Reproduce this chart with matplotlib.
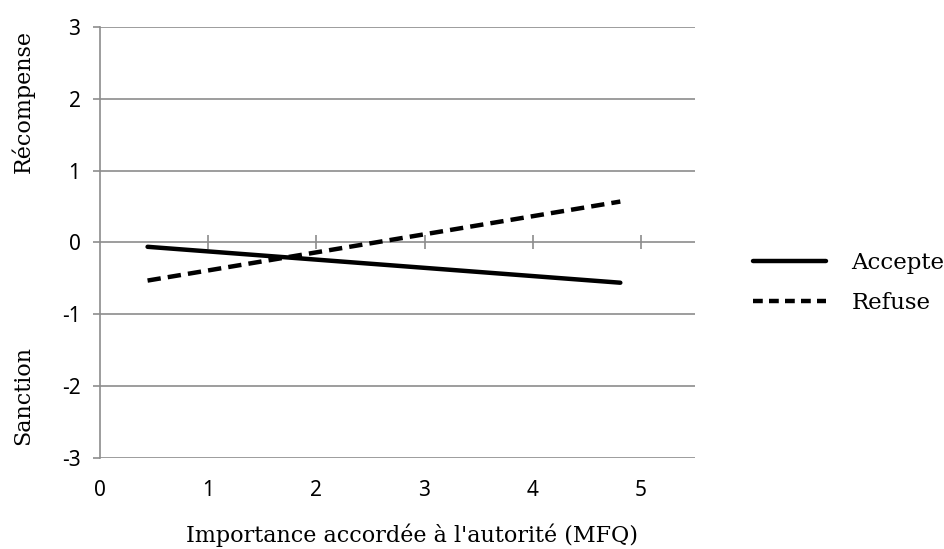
import matplotlib
matplotlib.use('Agg')
import matplotlib.pyplot as plt
from matplotlib.lines import Line2D

# ── Data ──────────────────────────────────────────────────────────────────────
x_vals   = [0.44, 4.81]
accepte  = [-0.06, -0.56]
refuse   = [-0.53, 0.57]
y_ticks  = [-3, -2, -1, 0, 1, 2, 3]
x_ticks  = [0, 1, 2, 3, 4, 5]

GRID  = '#8c8c8c'
SERIF = 'DejaVu Serif'
SANS  = 'Noto Sans'

fig = plt.figure(figsize=(9.44, 5.49), dpi=100)
ax = fig.add_axes([0.1059, 0.1658, 0.6303, 0.785])

ax.set_xlim(0, 5.5)
ax.set_ylim(-3, 3)

# horizontal gridlines (Excel style)
for y in y_ticks:
    ax.axhline(y, color=GRID, lw=1.2, zorder=0)

for s in ('top', 'right', 'bottom'):
    ax.spines[s].set_visible(False)
ax.spines['left'].set_color(GRID)
ax.spines['left'].set_linewidth(1.2)

ax.set_yticks(y_ticks)
ax.set_yticklabels([str(v) for v in y_ticks], fontfamily=SANS, fontsize=15)
ax.tick_params(axis='y', length=5, width=1.2, color=GRID, pad=9)

# x labels at the bottom, no ticks there
ax.set_xticks(x_ticks)
ax.set_xticklabels([str(v) for v in x_ticks], fontfamily=SANS, fontsize=15)
ax.tick_params(axis='x', length=0, pad=16)

# tick marks on the zero line
sec = ax.secondary_xaxis(0.5)
sec.set_xticks(x_ticks[1:])
sec.set_xticklabels([])
for sp in sec.spines.values():
    sp.set_visible(False)
sec.tick_params(axis='x', direction='inout', length=10, width=1.2, color=GRID)

# lines
ax.plot(x_vals, accepte, color='black', lw=3.2, solid_capstyle='round', zorder=3)
ax.plot(x_vals, refuse, color='black', lw=3.2, dashes=(3, 1.6), zorder=3)

fig.text(0.436, 0.0255, "Importance accordée à l'autorité (MFQ)", ha='center',
         va='center', fontfamily=SERIF, fontsize=16)
fig.text(0.024, 0.816, 'Récompense', rotation=90, ha='center', va='center',
         fontfamily=SERIF, fontsize=16)
fig.text(0.024, 0.28, 'Sanction', rotation=90, ha='center', va='center',
         fontfamily=SERIF, fontsize=16)

handles = [
    Line2D([0], [0], color='black', lw=3.2, solid_capstyle='round', label='Accepte'),
    Line2D([0], [0], color='black', lw=3.2, dashes=(2.2, 1.4), label='Refuse'),
]
fig.legend(handles=handles, loc='center left', bbox_to_anchor=(0.788, 0.4845),
           borderaxespad=0, frameon=False, prop={'family': SERIF, 'size': 16.5},
           handlelength=3.2, handletextpad=1.1, labelspacing=0.75)

fig.savefig('out.png', dpi=100)
